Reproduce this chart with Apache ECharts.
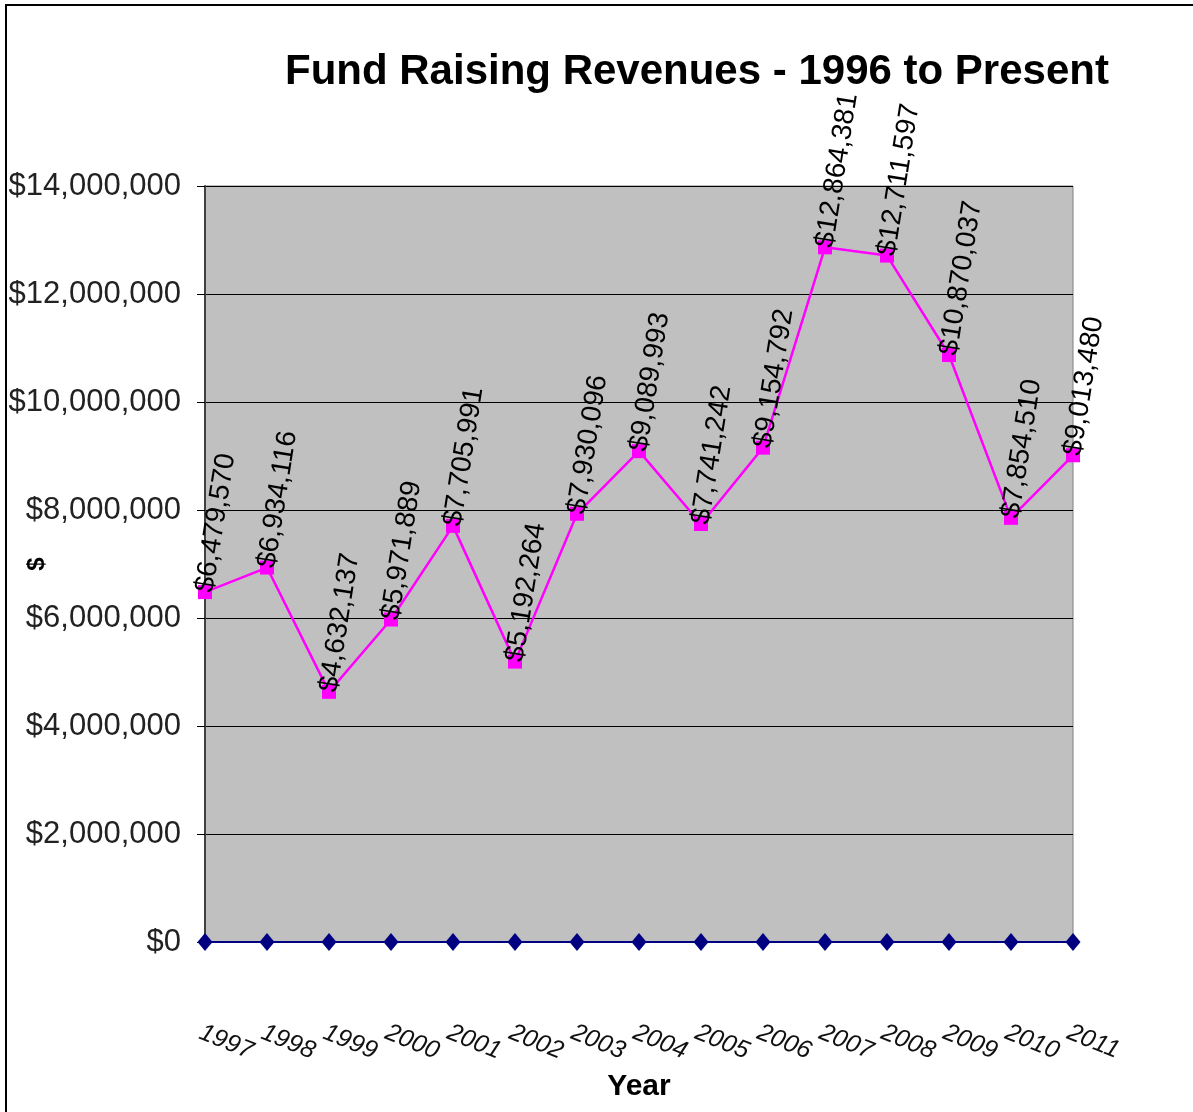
<!DOCTYPE html>
<html>
<head>
<meta charset="utf-8">
<script src="https://cdn.jsdelivr.net/npm/echarts@6/dist/echarts.min.js"></script>
<style>
  html, body { margin: 0; padding: 0; background: #fff; }
  #main { width: 1193px; height: 1112px; }
</style>
</head>
<body>
<div id="main"></div>
<script>
// ---- data ----
const years = ['1997','1998','1999','2000','2001','2002','2003','2004','2005','2006','2007','2008','2009','2010','2011'];
const revenues = [6479570, 6934116, 4632137, 5971889, 7705991, 5192264, 7930096, 9089993, 7741242, 9154792, 12864381, 12711597, 10870037, 7854510, 9013480];
const baseline = [0,0,0,0,0,0,0,0,0,0,0,0,0,0,0];

const money = v => '$' + v.toLocaleString('en-US');

const chart = echarts.init(document.getElementById('main'));

chart.setOption({
  backgroundColor: '#fff',
  animation: false,
  title: {
    text: 'Fund Raising Revenues - 1996 to Present',
    left: 280,
    top: 46,
    textStyle: {
      fontFamily: 'Liberation Sans',
      fontWeight: 'bold',
      fontSize: 42,
      color: '#000'
    }
  },
  graphic: [{
    type: 'rect',
    shape: { x: 6, y: 5, width: 1200, height: 1120 },
    style: { fill: 'none', stroke: '#000', lineWidth: 2 },
    silent: true
  }],
  grid: {
    left: 205, right: 120, top: 186, bottom: 170,
    outerBoundsMode: 'none',
    containLabel: false,
    show: true,
    backgroundColor: '#c0c0c0',
    borderColor: '#808080',
    borderWidth: 1
  },
  xAxis: {
    type: 'category',
    data: years,
    boundaryGap: false,
    name: 'Year',
    nameLocation: 'middle',
    nameGap: 130,
    nameMoveOverlap: false,
    nameTextStyle: {
      fontFamily: 'Liberation Sans',
      fontWeight: 'bold',
      fontSize: 30,
      color: '#000'
    },
    axisLine: { show: true, lineStyle: { color: '#000080', width: 2 } },
    axisTick: { show: false },
    axisLabel: {
      interval: 0,
      rotate: -22,
      margin: 78,
      align: 'left',
      verticalAlign: 'top',
      fontFamily: 'Liberation Sans',
      fontStyle: 'italic',
      fontSize: 25,
      color: '#111'
    },
    splitLine: { show: false }
  },
  yAxis: {
    type: 'value',
    min: 0,
    max: 14000000,
    interval: 2000000,
    name: '$',
    nameLocation: 'middle',
    nameGap: 156,
    nameRotate: 90,
    nameMoveOverlap: false,
    nameTextStyle: {
      fontFamily: 'Liberation Sans',
      fontWeight: 'bold',
      fontSize: 24,
      color: '#000'
    },
    axisLine: { show: true, lineStyle: { color: '#404040', width: 2 } },
    axisTick: { show: true, length: 8, lineStyle: { color: '#000' } },
    axisLabel: {
      margin: 24,
      formatter: v => money(v),
      fontFamily: 'Liberation Sans',
      fontSize: 31,
      color: '#222'
    },
    splitLine: { show: true, lineStyle: { color: '#000', width: 1 } }
  },
  series: [
    {
      name: 'Revenue',
      type: 'line',
      data: revenues,
      symbol: 'rect',
      symbolSize: 14,
      z: 3,
      lineStyle: { color: '#ff00ff', width: 2.5 },
      itemStyle: { color: '#ff00ff' },
      label: {
        show: true,
        position: 'inside',
        rotate: 81,
        align: 'left',
        verticalAlign: 'middle',
        formatter: p => money(p.value),
        fontFamily: 'Liberation Sans',
        fontSize: 28,
        color: '#000'
      }
    },
    {
      name: 'Base',
      type: 'line',
      data: baseline,
      symbol: 'diamond',
      symbolSize: [15, 18],
      z: 4,
      lineStyle: { color: '#000080', width: 2 },
      itemStyle: { color: '#000080' }
    }
  ]
});
</script>
</body>
</html>
